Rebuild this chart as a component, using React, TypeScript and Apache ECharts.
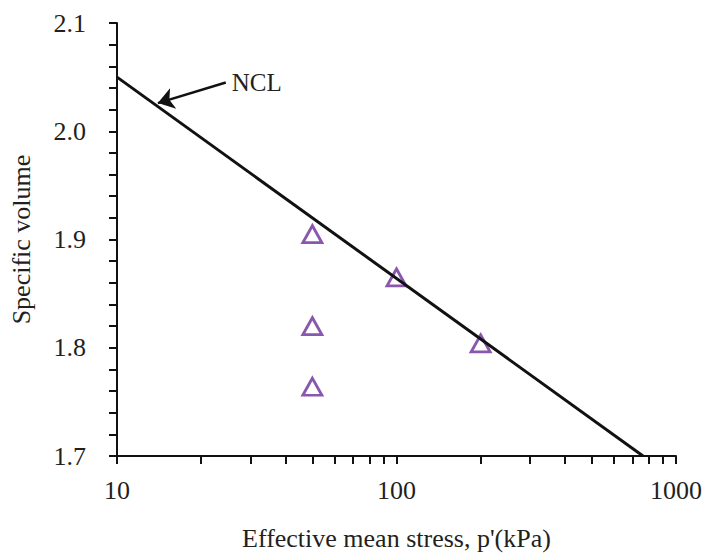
import React, { useEffect, useRef } from "react";
import * as echarts from "echarts";

const nclStress = [10, 762];
const nclVolume = [2.05, 1.7];
const testStress = [50, 50, 50, 100, 200];
const testVolume = [1.905, 1.82, 1.764, 1.865, 1.804];
const xTickValues = [10, 20, 30, 40, 50, 60, 70, 80, 90, 100, 200, 300, 400, 500, 600, 700, 800, 900, 1000];
const xLabelValues = [10, 100, 1000];
const arrowFrom = [24.5, 2.045];
const arrowTo = [14, 2.026];
const nclLabel = "NCL";

const FONT = "'Liberation Serif', 'Times New Roman', serif";
const TEXT = "#231F20";

export default function App() {
  const ref = useRef<HTMLDivElement>(null);
  useEffect(() => {
    if (!ref.current) return;
    const chart = echarts.init(ref.current, undefined, { renderer: "svg" });
    chart.setOption({
      animation: false,
      backgroundColor: "#fff",
      grid: { left: 116, right: 31, top: 23, bottom: 100 },
      xAxis: {
        type: "log",
        min: 10,
        max: 1000,
        logBase: 10,
        name: "Effective mean stress, p'(kPa)",
        nameLocation: "middle",
        nameGap: 69,
        nameTextStyle: { fontFamily: FONT, fontSize: 26, color: TEXT },
        axisLine: { lineStyle: { color: "#111", width: 2 } },
        axisTick: { show: true, length: 8, lineStyle: { color: "#111", width: 2 }, customValues: xTickValues },
        axisLabel: {
          fontFamily: FONT,
          fontSize: 26,
          color: TEXT,
          margin: 21,
          customValues: xLabelValues,
          formatter: (v: number) => String(Math.round(v)),
        },
        splitLine: { show: false },
        minorTick: { show: false },
      },
      yAxis: {
        type: "value",
        min: 1.7,
        max: 2.1,
        interval: 0.1,
        name: "Specific volume",
        nameLocation: "middle",
        nameGap: 83,
        nameTextStyle: { fontFamily: FONT, fontSize: 26, color: TEXT },
        axisLine: { show: true, lineStyle: { color: "#111", width: 2 } },
        axisTick: { show: true, length: 8, lineStyle: { color: "#111", width: 2 } },
        minorTick: { show: true, splitNumber: 5, length: 8, lineStyle: { color: "#111", width: 2 } },
        axisLabel: { fontFamily: FONT, fontSize: 26, color: TEXT, margin: 31, formatter: (v: number) => v.toFixed(1) },
        splitLine: { show: false },
      },
      series: [
        {
          type: "line",
          data: nclStress.map((p, i) => [p, nclVolume[i]]),
          showSymbol: false,
          symbol: "none",
          lineStyle: { color: "#111", width: 3 },
          markLine: {
            silent: true,
            symbol: ["none", "arrow"],
            symbolSize: 16,
            lineStyle: { color: "#111", width: 2.5, type: "solid" },
            label: { show: false },
            data: [[{ coord: arrowFrom }, { coord: arrowTo }]],
          },
          markPoint: {
            symbol: "circle",
            symbolSize: 0,
            data: [{ coord: arrowFrom }],
            label: {
              show: true,
              formatter: nclLabel,
              position: "right",
              distance: 6,
              fontFamily: FONT,
              fontSize: 25,
              color: TEXT,
            },
          },
        },
        {
          type: "scatter",
          data: testStress.map((p, i) => [p, testVolume[i]]),
          symbol: "triangle",
          symbolSize: [19, 17],
          itemStyle: { color: "#fff", borderColor: "#6B2D9A", borderWidth: 2.8 },
        },
      ],
    });
    return () => chart.dispose();
  }, []);
  return <div ref={ref} style={{ width: 707, height: 556, position: "absolute", left: 0, top: 0 }} />;
}
